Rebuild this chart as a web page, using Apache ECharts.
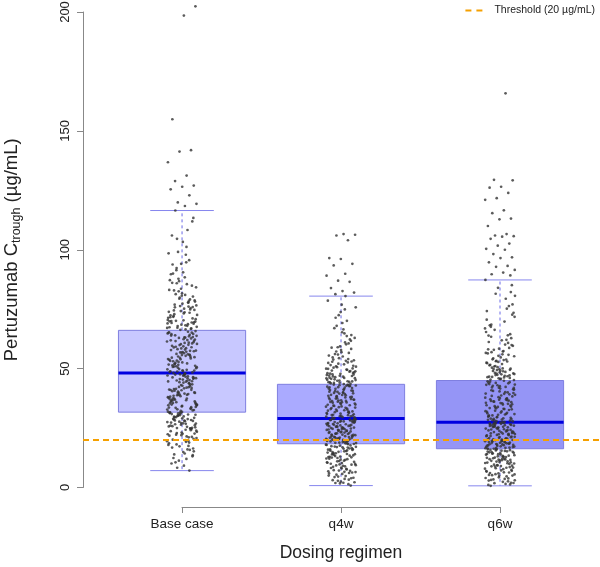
<!DOCTYPE html>
<html>
<head>
<meta charset="utf-8">
<script src="https://cdn.jsdelivr.net/npm/echarts@6/dist/echarts.min.js"></script>
<style>html,body{margin:0;padding:0;background:#fff;}#chart{width:600px;height:567px;}</style>
</head>
<body>
<div id="chart"></div>
<script>
// ---- data ----
var categories = ['Base case', 'q4w', 'q6w'];
var boxMin    = [7.1, 0.8, 0.7];
var boxQ1     = [31.7, 18.4, 16.3];
var boxMedian = [48.2, 29.0, 27.4];
var boxQ3     = [66.1, 43.4, 45.0];
var boxMax    = [116.5, 80.5, 87.3];
var threshold = 20;
var yTicks = [0, 50, 100, 150, 200];

var baseCasePoints = [
 24.3,29.8,13.6,27.1,31.4,19.7,22.9,30.6,9.2,25.8,28.4,17.3,31.9,21.5,26.6,15.2,29.1,23.7,7.1,30.2,20.8,27.9,12.4,25.1,
 31.1,18.6,28.8,22.2,26.2,14.9,30.9,24.9,11.3,27.5,19.2,29.5,16.4,23.1,31.6,21.1,8.3,26.9,28.1,20.1,24.6,30.4,17.9,25.5,
 10.6,29.3,22.6,27.3,15.8,31.2,23.4,19.9,28.6,13.1,26.4,21.8,30.7,18.1,25.3,29.9,16.8,24.1,27.7,22.4,12.0,28.2,20.5,31.8,
 26.0,18.9,30.1,23.9,14.3,28.9,21.3,31.5,25.7,16.0,29.6,22.7,27.0,10.1,24.8,30.5,19.5,26.8,13.9,28.0,22.0,31.3,17.5,25.0,
 35.2,41.7,46.3,33.8,39.1,44.6,37.4,47.5,32.6,42.8,36.1,45.2,40.3,34.5,47.9,38.6,43.4,32.2,41.2,46.8,35.9,39.8,44.1,37.0,
 33.1,42.3,47.1,36.7,40.7,45.7,34.1,38.2,43.9,32.9,46.0,39.5,35.5,41.9,47.6,37.8,44.9,33.5,40.0,45.4,36.4,42.6,38.9,34.8,
 46.6,41.4,32.4,43.1,37.2,39.3,45.0,35.7,47.3,40.5,33.3,44.3,38.0,42.0,36.9,46.1,34.3,41.0,43.7,39.7,35.0,47.8,37.6,44.7,
 38.4,33.6,45.9,41.5,36.2,47.0,34.9,43.3,39.9,32.8,44.5,37.3,46.4,40.9,35.4,42.2,38.8,33.9,47.4,36.6,41.1,45.6,34.6,39.0,
 52.4,61.7,49.3,57.8,64.2,55.1,50.6,63.0,58.9,48.4,60.3,53.7,65.5,56.2,51.2,62.4,59.6,54.3,49.8,64.8,57.1,52.0,61.1,55.7,
 48.9,63.6,58.2,50.2,60.8,53.1,65.1,56.8,51.7,62.0,59.2,54.8,49.0,64.5,57.5,52.8,61.4,55.4,50.9,63.3,58.5,48.6,60.0,53.4,
 65.8,56.5,51.4,62.7,59.9,54.0,49.5,64.0,57.3,52.6,61.9,55.9,50.4,63.8,58.0,48.2,60.6,53.9,65.3,56.0,51.0,62.2,59.4,54.6,
 55.0,62.9,49.7,58.6,51.9,64.6,56.7,53.3,60.9,48.8,57.6,63.2,50.7,59.0,54.5,65.0,52.2,61.6,49.2,57.0,63.9,55.6,51.6,60.4,
 68.2,74.5,71.1,83.6,67.4,77.9,92.3,69.8,73.2,86.1,66.7,79.4,70.5,101.2,75.8,68.9,81.7,72.4,95.6,67.9,76.6,88.4,71.8,84.9,
 66.3,73.9,108.3,70.1,78.7,90.5,69.2,74.9,82.5,67.1,97.9,72.9,80.3,68.5,87.2,76.1,104.6,70.8,75.2,93.8,66.9,79.9,71.4,85.5,
 116.5,69.5,77.3,89.7,73.5,99.1,67.6,81.0,72.1,111.9,74.2,83.1,68.7,91.4,78.2,70.3,106.0,75.5,86.8,69.0,94.7,76.9,113.4,80.7,
 71.6,78.5,67.2,84.2,73.7,90.0,69.4,76.3,98.5,68.0,81.3,74.7,103.3,70.0,79.1,87.8,72.6,66.5,82.9,75.9,94.1,69.9,77.7,85.9,
 202.4,198.5,154.9,141.9,141.3,136.8,131.2,128.9,127.0,126.5,125.4,122.9,119.9,119.3,118.4
];
var q4wPoints = [
 9.4,15.2,3.1,12.7,17.6,6.8,14.1,1.9,10.8,16.9,8.2,13.4,4.6,17.9,11.6,7.3,15.8,2.5,12.1,18.2,5.4,9.9,16.3,13.9,
 0.8,11.1,14.7,7.8,17.2,4.1,10.3,15.5,6.1,12.4,18.0,3.6,8.7,16.6,13.0,5.0,11.9,14.4,2.2,9.1,17.4,7.0,15.0,10.6,
 4.8,13.7,16.1,8.4,12.9,1.4,17.0,6.5,11.3,14.9,3.9,9.7,15.9,7.6,13.2,18.3,5.7,10.0,16.4,2.8,12.2,8.9,14.5,6.3,
 11.7,5.9,16.8,9.3,14.0,2.0,12.6,17.7,7.1,10.4,15.3,4.4,13.5,8.0,16.0,3.3,11.0,17.1,6.6,14.2,9.6,1.7,12.8,15.6,
 22.6,27.3,19.1,25.0,28.6,20.7,24.2,18.6,26.4,21.5,28.0,23.3,19.8,25.7,22.0,27.8,20.2,24.8,18.9,26.9,23.7,21.1,28.4,25.3,
 19.4,22.9,27.0,20.5,24.5,28.9,21.8,26.1,23.0,18.5,25.5,27.6,20.0,22.3,28.2,24.0,19.6,26.6,21.3,27.4,23.5,20.9,25.9,22.8,
 28.7,19.3,24.7,26.3,21.0,27.1,23.9,18.8,25.2,22.2,28.5,20.3,24.3,26.8,21.6,19.9,27.9,23.2,25.8,22.5,20.6,28.1,24.9,21.9,
 23.6,20.4,26.2,19.0,27.5,22.1,24.6,28.3,21.2,25.6,18.7,23.1,26.7,20.8,27.7,24.4,19.5,22.7,28.8,25.1,21.4,26.0,23.8,20.1,
 33.5,39.8,30.2,36.7,42.1,31.6,38.4,34.9,41.3,29.4,37.2,43.0,32.3,35.8,40.5,30.8,38.9,33.0,42.6,36.1,29.8,39.3,34.4,41.8,
 31.1,37.7,43.2,32.8,35.3,40.0,30.5,38.0,33.8,42.4,36.4,29.2,39.6,34.1,41.0,31.9,37.5,42.9,32.5,35.6,40.8,30.0,38.6,33.2,
 41.5,36.9,29.6,39.0,34.6,42.2,31.3,37.9,43.3,32.0,35.1,40.3,30.4,38.2,33.6,41.1,36.3,29.9,39.5,34.8,42.8,31.7,37.0,35.9,
 36.0,31.4,40.2,34.0,42.0,30.6,38.1,35.5,41.6,32.7,37.4,29.5,39.9,33.4,42.7,36.6,31.0,38.8,34.3,40.6,30.1,37.1,43.1,32.2,
 45.2,51.8,47.6,58.3,44.1,49.9,63.7,46.4,53.5,69.2,43.8,48.7,55.9,45.9,61.0,50.4,44.6,73.8,47.1,52.6,57.2,46.0,66.5,49.2,
 43.6,54.4,48.1,60.2,45.5,51.2,76.9,47.9,56.6,44.9,50.8,64.8,46.7,53.0,59.4,44.3,49.5,71.4,48.4,55.1,45.7,62.3,52.1,47.3,
 80.5,44.0,50.1,57.8,46.2,54.0,68.0,48.9,43.5,52.9,61.7,45.0,78.6,49.6,56.1,47.5,65.3,51.5,44.4,59.0,50.0,74.9,53.8,46.9,
 47.8,55.5,44.7,51.0,62.9,46.6,58.8,49.0,72.5,45.3,53.3,67.0,48.2,56.9,44.2,60.6,50.6,75.8,46.1,54.7,64.1,47.0,52.4,70.1,
 81.3,82.0,82.6,83.9,86.5,87.0,89.1,89.9,93.4,94.1,96.1,96.5,104.0,106.0,106.3,106.6
];
var q6wPoints = [
 8.1,13.6,2.4,11.2,15.7,5.9,12.5,1.5,9.6,15.0,7.2,11.9,3.8,16.1,10.3,6.4,14.2,2.0,10.7,16.2,4.7,8.8,14.6,12.2,
 0.7,9.9,13.1,6.9,15.4,3.4,9.2,13.9,5.3,11.0,16.0,3.0,7.7,14.9,11.6,4.3,10.5,12.8,1.8,8.4,15.5,6.1,13.4,9.4,
 4.0,12.0,14.4,7.4,11.4,1.1,15.2,5.6,10.1,13.3,3.2,8.6,14.0,6.7,11.8,16.3,5.0,9.0,14.8,2.6,10.9,7.9,12.9,5.2,
 10.6,4.9,15.1,8.3,12.6,1.9,11.5,15.8,6.3,9.3,13.8,3.6,12.3,7.0,14.5,2.9,10.2,15.6,5.5,13.0,8.9,1.3,11.7,14.1,
 20.4,25.6,17.0,23.2,26.9,18.5,22.1,16.5,24.5,19.3,26.3,21.2,17.7,23.9,19.9,26.0,18.1,22.8,16.8,25.1,21.6,19.0,26.7,23.5,
 17.3,20.8,25.3,18.3,22.5,27.2,19.6,24.2,20.9,16.4,23.6,25.8,17.9,20.1,26.5,22.0,17.5,24.8,19.2,25.4,21.4,18.8,24.0,20.6,
 27.0,17.2,22.7,24.4,18.9,25.2,21.9,16.7,23.3,20.0,26.8,18.2,22.3,25.0,19.5,17.8,26.1,21.1,23.8,20.3,18.6,26.4,23.0,19.7,
 21.7,18.4,24.6,17.1,26.2,20.2,22.9,27.3,19.1,24.1,16.6,21.3,25.5,18.7,26.6,22.4,17.6,20.7,27.1,23.4,19.4,25.9,22.6,18.0,
 32.1,39.4,28.3,35.9,42.6,29.8,37.5,33.7,41.2,27.6,36.4,44.3,30.6,34.6,40.1,28.9,38.3,31.5,43.5,35.2,27.9,39.0,33.1,42.1,
 29.3,36.9,44.7,31.0,34.2,39.7,28.6,37.1,32.6,43.0,35.6,27.5,40.6,32.9,41.6,30.1,36.7,44.0,30.9,34.9,40.9,28.1,38.0,31.8,
 42.3,36.1,27.8,38.7,33.4,43.8,29.5,37.8,44.9,30.3,34.0,40.4,28.5,37.3,32.3,41.9,35.4,29.0,39.2,33.9,43.2,30.7,36.2,35.0,
 35.5,30.2,40.0,33.3,43.3,29.1,38.5,34.4,42.0,31.2,37.0,28.2,41.3,32.0,44.5,36.5,29.7,39.5,33.0,42.8,28.8,37.6,44.1,31.4,
 47.3,55.2,50.1,63.4,46.1,52.8,70.6,48.6,57.9,77.0,45.7,51.4,60.8,47.9,66.9,53.6,46.5,82.2,49.7,56.4,62.1,48.2,73.5,51.9,
 45.4,58.7,50.6,65.4,47.0,54.3,85.1,49.2,61.2,46.8,53.1,71.8,48.9,56.9,64.5,45.9,52.3,79.4,50.9,59.6,47.6,68.2,55.8,49.4,
 87.3,46.3,53.9,62.8,48.4,58.1,75.2,51.1,45.2,56.0,67.6,47.2,84.0,52.5,60.1,49.8,72.7,54.7,46.6,64.0,53.3,80.6,57.4,50.4,
 50.0,58.4,46.4,53.8,66.3,48.0,61.9,51.6,76.3,47.4,56.6,69.8,49.0,59.9,45.6,63.9,53.0,81.5,47.7,57.2,68.5,49.5,55.4,74.2,
 165.8,129.4,129.2,126.5,126.1,123.9,121.7,121.0,116.6,115.4,113.1,112.8,110.0,106.6,106.0,105.7,105.5,104.6,102.6,101.7,
 100.4,100.0,98.2,96.8,96.5,94.7,93.2,92.8,91.5,90.4,89.7,89.2
];
var groupPoints = [baseCasePoints, q4wPoints, q6wPoints];

// ---- build series data ----
var boxColors = ['#c8c8ff', '#aaaaff', '#9595f6'];
var boxData = categories.map(function (c, i) {
  return [i + 1, boxMin[i], boxQ1[i], boxMedian[i], boxQ3[i], boxMax[i], i];
});
var JITTER = 0.095;
var scatterData = [];
groupPoints.forEach(function (arr, g) {
  arr.forEach(function (v, i) {
    var u = ((i + 1) * 0.6180339887 + g * 0.37) % 1; // deterministic spread
    scatterData.push([g + 1 + (u - 0.5) * 2 * JITTER, v]);
  });
});

var FONT = '"Liberation Sans", Arial, sans-serif';
var chart = echarts.init(document.getElementById('chart'), null, {renderer: 'canvas'});

function renderBox(params, api) {
  var x = api.value(0);
  var pMin = api.coord([x, api.value(1)]);
  var pQ1 = api.coord([x, api.value(2)]);
  var pMed = api.coord([x, api.value(3)]);
  var pQ3 = api.coord([x, api.value(4)]);
  var pMax = api.coord([x, api.value(5)]);
  var idx = api.value(6);
  var half = api.size([0.4, 0])[0];
  var capHalf = api.size([0.2, 0])[0];
  var cx = pMed[0];
  var whisk = {stroke: '#6a6ae6', lineWidth: 1, lineDash: [3, 3]};
  var cap = {stroke: '#8686ee', lineWidth: 1};
  return {
    type: 'group',
    children: [
      {type: 'line', shape: {x1: cx, y1: pQ3[1], x2: cx, y2: pMax[1]}, style: whisk},
      {type: 'line', shape: {x1: cx, y1: pQ1[1], x2: cx, y2: pMin[1]}, style: whisk},
      {type: 'line', shape: {x1: cx - capHalf, y1: pMax[1], x2: cx + capHalf, y2: pMax[1]}, style: cap},
      {type: 'line', shape: {x1: cx - capHalf, y1: pMin[1], x2: cx + capHalf, y2: pMin[1]}, style: cap},
      {type: 'rect', shape: {x: cx - half, y: pQ3[1], width: half * 2, height: pQ1[1] - pQ3[1]},
        style: {fill: boxColors[idx], stroke: '#7f7fe0', lineWidth: 1}},
      {type: 'line', shape: {x1: cx - half, y1: pMed[1], x2: cx + half, y2: pMed[1]},
        style: {stroke: '#0000e0', lineWidth: 3}}
    ]
  };
}

var option = {
  backgroundColor: '#ffffff',
  animation: false,
  textStyle: {fontFamily: FONT},
  legend: {
    top: 0, right: 0,
    itemWidth: 17, itemHeight: 10,
    itemStyle: {color: 'transparent', borderColor: 'transparent', borderWidth: 0},
    lineStyle: {color: '#f5a000', width: 2, type: [6, 5]},
    textStyle: {fontSize: 10.5, color: '#222', fontFamily: FONT, padding: [0, 0, 0, 7]},
    data: ['Threshold (20 µg/mL)']
  },
  grid: [
    {left: 83, top: 12, width: 517, height: 475.5, outerBoundsMode: 'none', containLabel: false},
    {left: 182, top: 506, width: 318, height: 1, outerBoundsMode: 'none', containLabel: false}
  ],
  xAxis: [
    {gridIndex: 0, type: 'value', min: 0.377, max: 3.629, show: false},
    {
      gridIndex: 1, type: 'value', min: 1, max: 3, interval: 1,
      axisLine: {show: true, lineStyle: {color: '#888', width: 1}},
      axisTick: {show: true, length: 6, lineStyle: {color: '#888'}},
      splitLine: {show: false},
      axisLabel: {fontSize: 13.5, color: '#222', margin: 10, fontFamily: FONT,
        formatter: function (v) { return categories[Math.round(v) - 1] || ''; }},
      name: 'Dosing regimen', nameLocation: 'middle', nameGap: 37,
      nameTextStyle: {fontSize: 17.5, color: '#222', fontFamily: FONT}
    }
  ],
  yAxis: [
    {
      gridIndex: 0, type: 'value', min: yTicks[0], max: yTicks[yTicks.length - 1], interval: 50,
      axisLine: {show: true, lineStyle: {color: '#888', width: 1}},
      axisTick: {show: true, length: 6, lineStyle: {color: '#888'}},
      splitLine: {show: false},
      axisLabel: {rotate: 90, fontSize: 13, color: '#222', margin: 11, fontFamily: FONT},
      name: '{a|Pertuzumab C}{s|trough}{a| (µg/mL)}',
      nameLocation: 'middle', nameRotate: 90, nameGap: 60,
      nameTextStyle: {
        fontFamily: FONT,
        rich: {
          a: {fontSize: 18.5, color: '#222', fontFamily: FONT, lineHeight: 22},
          s: {fontSize: 12.5, color: '#222', fontFamily: FONT, lineHeight: 22, padding: [9, 0, 0, 0]}
        }
      }
    },
    {gridIndex: 1, type: 'value', show: false}
  ],
  series: [
    {
      type: 'custom', name: 'box', xAxisIndex: 0, yAxisIndex: 0,
      renderItem: renderBox, data: boxData, z: 1, silent: true,
      encode: {x: 0, y: [1, 5]}
    },
    {
      type: 'scatter', name: 'points', xAxisIndex: 0, yAxisIndex: 0,
      data: scatterData, symbol: 'circle', symbolSize: 2.7, clip: false,
      itemStyle: {color: '#333333'}, z: 2, silent: true
    },
    {
      type: 'line', name: 'Threshold (20 µg/mL)', xAxisIndex: 0, yAxisIndex: 0,
      data: [], symbol: 'none', showSymbol: false, z: 3,
      color: '#f5a000',
      lineStyle: {color: '#f5a000', width: 2, type: [6, 4]},
      markLine: {
        silent: true, symbol: 'none', label: {show: false},
        lineStyle: {color: '#f5a000', width: 2, type: [6, 4]},
        data: [{yAxis: threshold}]
      }
    }
  ]
};
chart.setOption(option);
</script>
</body>
</html>
